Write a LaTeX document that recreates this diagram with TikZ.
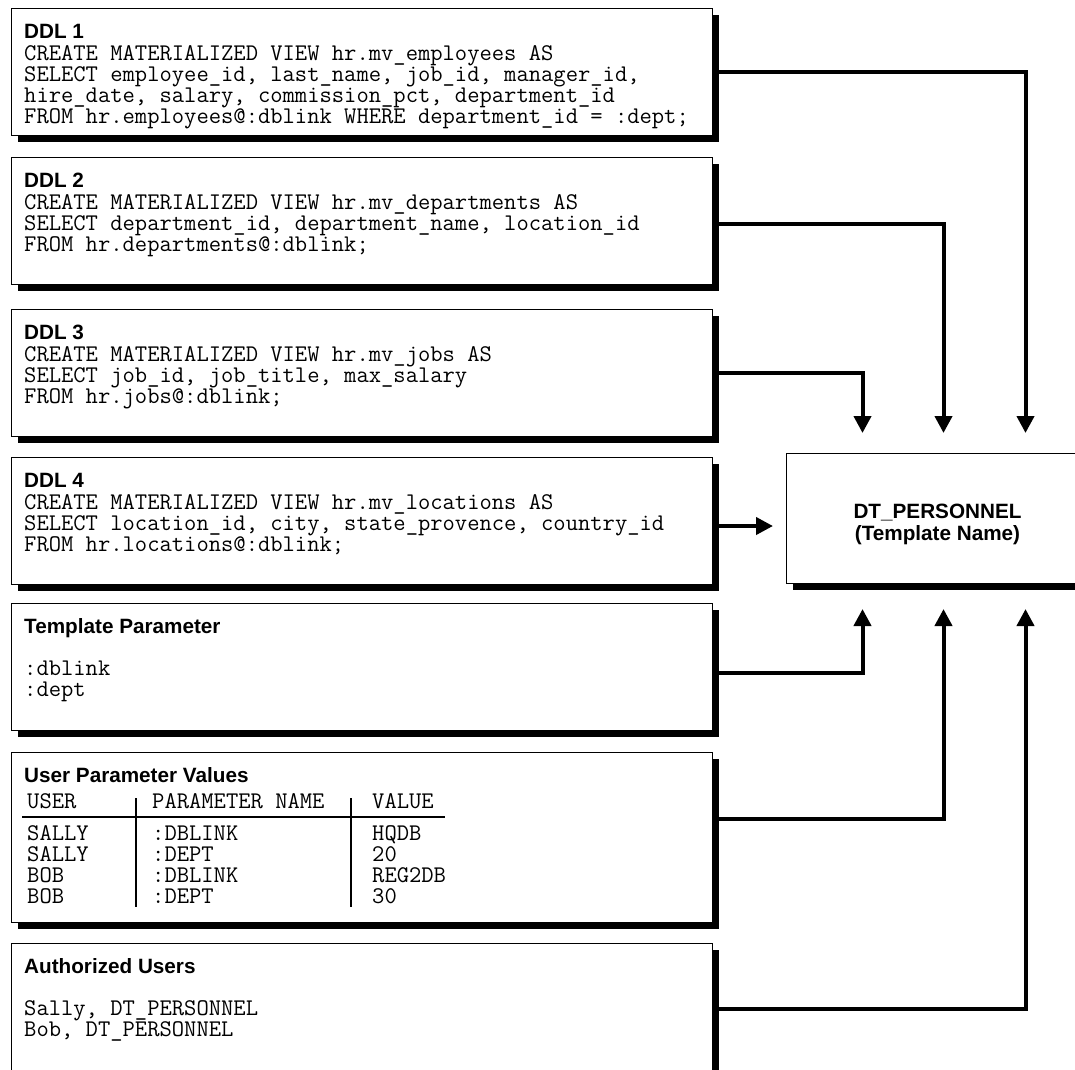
\documentclass[tikz,border=0pt]{standalone}
\usepackage{fontspec}
\usepackage{tikz}
\usetikzlibrary{arrows.meta}
\usetikzlibrary{shadows}
\newfontfamily\hdfamily{Liberation Sans}
\newcommand{\hd}{\hdfamily\bfseries\fontsize{20.7}{22}\selectfont}
\newcommand{\cd}{\ttfamily\fontsize{23.9}{21}\selectfont}
% first line of a box: fixed height so that the node top gives the baseline
\newcommand{\firstline}{\rule{0pt}{16pt}}
\def\boxw{701pt}
\def\boxh{127pt}
\tikzset{
  sqlbox/.style={draw, line width=1pt, fill=white, anchor=north west,
    minimum width=\boxw, minimum height=\boxh, inner sep=0pt,
    drop shadow={shadow xshift=6pt, shadow yshift=-6pt, fill=black, opacity=1}},
  boxtext/.style={anchor=north west, inner sep=0pt, align=left, font=\cd},
  link/.style={line width=4pt, -{Triangle[length=17pt,width=17pt]}},
  rule/.style={line width=2.5pt}
}

\begin{document}
\begin{tikzpicture}[x=1pt, y=-1pt]
  \useasboundingbox (0,0) rectangle (1075,1069);

  % boxes on the left
  \node[sqlbox] (ddl1) at (11,8) {};
  \node[sqlbox] (ddl2) at (11,157) {};
  \node[sqlbox] (ddl3) at (11,309) {};
  \node[sqlbox] (ddl4) at (11,457) {};
  \node[sqlbox] (tparam) at (11,603) {};
  \node[sqlbox, minimum height=170pt] (uparam) at (11,752) {};
  \node[sqlbox, minimum height=130pt] (auth) at (11,943) {};

  % template box
  \node[sqlbox, minimum width=302pt, minimum height=130pt] (dt) at (786,453) {};
  \node[font=\hd, align=center, inner sep=0pt] (dtname) at ([yshift=-6pt]dt.center)
    {DT\_PERSONNEL\\(Template Name)};

  \node[boxtext] (ddl1-txt) at ([xshift=13pt,yshift=-14pt]ddl1.north west)
    {\firstline{\hd DDL 1}\\[1pt]
     CREATE MATERIALIZED VIEW hr.mv\_employees AS\\
     SELECT employee\_id, last\_name, job\_id, manager\_id,\\
     hire\_date, salary, commission\_pct, department\_id\\
     FROM hr.employees@:dblink WHERE department\_id = :dept;};
  \node[boxtext] (ddl2-txt) at ([xshift=13pt,yshift=-14pt]ddl2.north west)
    {\firstline{\hd DDL 2}\\[1pt]
     CREATE MATERIALIZED VIEW hr.mv\_departments AS\\
     SELECT department\_id, department\_name, location\_id\\
     FROM hr.departments@:dblink;};
  \node[boxtext] (ddl3-txt) at ([xshift=13pt,yshift=-14pt]ddl3.north west)
    {\firstline{\hd DDL 3}\\[1pt]
     CREATE MATERIALIZED VIEW hr.mv\_jobs AS\\
     SELECT job\_id, job\_title, max\_salary\\
     FROM hr.jobs@:dblink;};
  \node[boxtext] (ddl4-txt) at ([xshift=13pt,yshift=-14pt]ddl4.north west)
    {\firstline{\hd DDL 4}\\[1pt]
     CREATE MATERIALIZED VIEW hr.mv\_locations AS\\
     SELECT location\_id, city, state\_provence, country\_id\\
     FROM hr.locations@:dblink;};
  \node[boxtext] (tparam-txt) at ([xshift=13pt,yshift=-14pt]tparam.north west)
    {\firstline{\hd Template Parameter}\\[21pt]
     :dblink\\
     :dept};
  \node[boxtext] (auth-txt) at ([xshift=13pt,yshift=-14pt]auth.north west)
    {\firstline{\hd Authorized Users}\\[21pt]
     Sally, DT\_PERSONNEL\\
     Bob, DT\_PERSONNEL};

  % user parameter table
  \node[boxtext] (uparam-txt) at ([xshift=13pt,yshift=-14pt]uparam.north west)
    {\firstline{\hd User Parameter Values}};
  \node[boxtext] (ucol) at ([xshift=16pt,yshift=-40pt]uparam.north west)
    {\firstline USER\\[11pt] SALLY\\ SALLY\\ BOB\\ BOB};
  \node[boxtext] (pcol) at ([xshift=141pt,yshift=-40pt]uparam.north west)
    {\firstline PARAMETER NAME\\[11pt] :DBLINK\\ :DEPT\\ :DBLINK\\ :DEPT};
  \node[boxtext] (vcol) at ([xshift=361pt,yshift=-40pt]uparam.north west)
    {\firstline VALUE\\[11pt] HQDB\\ 20\\ REG2DB\\ 30};
  \begin{scope}[shift={(uparam.north west)}]
    \draw[rule] (11,65) -- (434,65);
    \draw[rule, line width=2pt] (125,46) -- (125,155);
    \draw[rule, line width=2pt] (340,46) -- (340,155);
  \end{scope}

  % connectors
  \coordinate (j4) at ([yshift=-5pt]ddl4.east);
  \draw[link, shorten >=20pt] (ddl1.east) -| ([xshift=88pt]dt.north);
  \draw[link, shorten >=20pt] ([yshift=-3pt]ddl2.east) -| ([xshift=6pt]dt.north);
  \draw[link, shorten >=20pt] (ddl3.east) -| ([xshift=-75pt]dt.north);
  \draw[link, shorten >=13pt] (j4) -- (j4 -| dt.west);
  \draw[link, shorten >=25pt] ([yshift=-6pt]tparam.east) -| ([xshift=-75pt]dt.south);
  \draw[link, shorten >=25pt] ([yshift=19pt]uparam.east) -| ([xshift=6pt]dt.south);
  \draw[link, shorten >=25pt] (auth.east) -| ([xshift=88pt]dt.south);
\end{tikzpicture}
\end{document}
